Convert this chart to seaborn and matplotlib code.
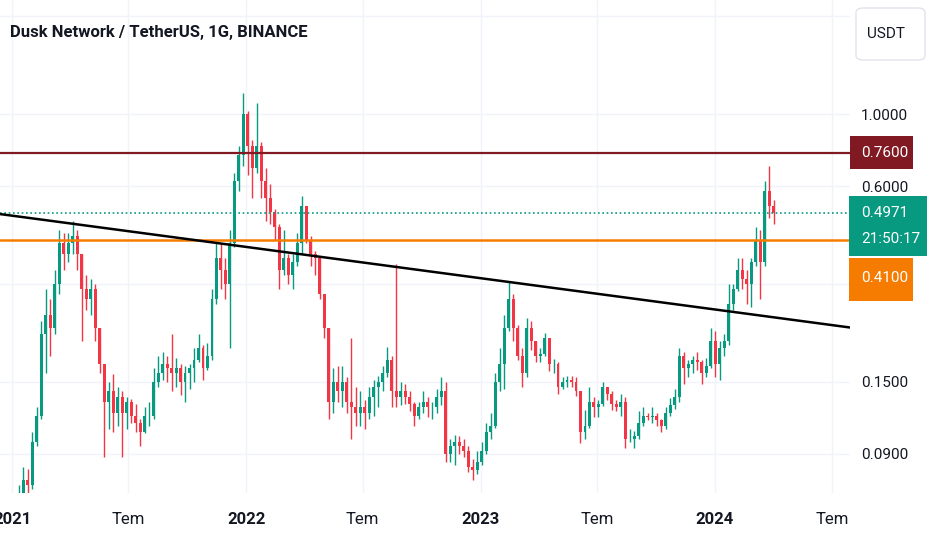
import pandas as pd
import seaborn as sns
import matplotlib.pyplot as plt
import matplotlib.dates as mdates
from matplotlib.patches import Rectangle, FancyBboxPatch
from matplotlib.ticker import FixedLocator, FixedFormatter

sns.set_theme(style="white")
plt.rcParams['font.family'] = ['Roboto', 'DejaVu Sans']

# weekly candles, first week starts 2020-12-18
first_week = "2020-12-18"
first_open = 0.042
closes = [0.045, 0.050, 0.058, 0.064, 0.075, 0.072, 0.098, 0.118, 0.21, 0.24,
          0.22, 0.30, 0.40, 0.37, 0.40, 0.42, 0.37, 0.29, 0.27, 0.29,
          0.22, 0.17, 0.13, 0.14, 0.12, 0.135, 0.12, 0.13, 0.118, 0.112,
          0.105, 0.118, 0.118, 0.15, 0.16, 0.17, 0.165, 0.16, 0.165, 0.15,
          0.16, 0.165, 0.175, 0.19, 0.165, 0.18, 0.27, 0.36, 0.33, 0.30,
          0.40, 0.62, 0.75, 1.00, 0.80, 0.68, 0.80, 0.62, 0.55, 0.50,
          0.45, 0.33, 0.36, 0.32, 0.35, 0.40, 0.52, 0.41, 0.37, 0.36,
          0.28, 0.22, 0.13, 0.15, 0.14, 0.15, 0.13, 0.125, 0.12, 0.125,
          0.12, 0.135, 0.145, 0.15, 0.16, 0.175, 0.14, 0.135, 0.14, 0.135,
          0.128, 0.118, 0.125, 0.13, 0.125, 0.125, 0.135, 0.14, 0.09, 0.095,
          0.098, 0.095, 0.092, 0.082, 0.08, 0.085, 0.092, 0.105, 0.11, 0.15,
          0.17, 0.22, 0.27, 0.22, 0.18, 0.16, 0.22, 0.20, 0.18, 0.182,
          0.205, 0.17, 0.17, 0.145, 0.15, 0.152, 0.15, 0.14, 0.105, 0.11,
          0.13, 0.125, 0.128, 0.145, 0.138, 0.128, 0.125, 0.13, 0.10, 0.10,
          0.102, 0.112, 0.118, 0.117, 0.118, 0.114, 0.11, 0.12, 0.127, 0.135,
          0.18, 0.165, 0.17, 0.175, 0.172, 0.16, 0.168, 0.20, 0.17, 0.19,
          0.20, 0.26, 0.29, 0.33, 0.31, 0.30, 0.35, 0.41, 0.35, 0.58,
          0.52, 0.4971]
highs = [0.05, 0.056, 0.066, 0.072, 0.082, 0.081, 0.105, 0.125, 0.23, 0.29,
         0.27, 0.33, 0.44, 0.43, 0.43, 0.47, 0.44, 0.37, 0.32, 0.31,
         0.30, 0.22, 0.17, 0.15, 0.158, 0.145, 0.14, 0.135, 0.133, 0.128,
         0.115, 0.125, 0.13, 0.165, 0.18, 0.185, 0.18, 0.21, 0.178, 0.17,
         0.168, 0.17, 0.19, 0.21, 0.195, 0.197, 0.29, 0.40, 0.40, 0.36,
         0.44, 0.66, 0.80, 1.16, 1.02, 0.83, 1.08, 0.82, 0.68, 0.61,
         0.51, 0.46, 0.44, 0.37, 0.37, 0.43, 0.56, 0.52, 0.42, 0.38,
         0.36, 0.28, 0.22, 0.165, 0.168, 0.168, 0.155, 0.205, 0.145, 0.14,
         0.132, 0.145, 0.152, 0.156, 0.168, 0.192, 0.18, 0.345, 0.15, 0.148,
         0.14, 0.13, 0.13, 0.14, 0.135, 0.13, 0.142, 0.155, 0.15, 0.10,
         0.103, 0.102, 0.10, 0.095, 0.087, 0.092, 0.098, 0.112, 0.12, 0.16,
         0.19, 0.24, 0.305, 0.28, 0.225, 0.19, 0.235, 0.23, 0.20, 0.19,
         0.212, 0.205, 0.176, 0.172, 0.155, 0.156, 0.156, 0.155, 0.14, 0.123,
         0.145, 0.135, 0.132, 0.15, 0.145, 0.14, 0.132, 0.138, 0.135, 0.107,
         0.106, 0.122, 0.125, 0.12, 0.125, 0.12, 0.115, 0.125, 0.134, 0.142,
         0.19, 0.185, 0.175, 0.18, 0.185, 0.175, 0.178, 0.22, 0.215, 0.20,
         0.21, 0.30, 0.30, 0.36, 0.36, 0.33, 0.36, 0.45, 0.44, 0.62,
         0.69, 0.545]
lows = [0.04, 0.043, 0.048, 0.055, 0.06, 0.066, 0.07, 0.095, 0.115, 0.16,
        0.18, 0.21, 0.28, 0.33, 0.35, 0.37, 0.33, 0.20, 0.25, 0.24,
        0.20, 0.16, 0.088, 0.107, 0.105, 0.11, 0.088, 0.107, 0.112, 0.105,
        0.095, 0.104, 0.11, 0.115, 0.145, 0.152, 0.15, 0.14, 0.145, 0.137,
        0.13, 0.143, 0.15, 0.172, 0.152, 0.163, 0.175, 0.26, 0.29, 0.27,
        0.19, 0.39, 0.58, 0.69, 0.65, 0.55, 0.66, 0.55, 0.47, 0.46,
        0.41, 0.29, 0.32, 0.30, 0.29, 0.34, 0.37, 0.40, 0.34, 0.32,
        0.27, 0.205, 0.115, 0.12, 0.13, 0.125, 0.12, 0.10, 0.11, 0.11,
        0.107, 0.115, 0.118, 0.125, 0.14, 0.155, 0.125, 0.125, 0.127, 0.128,
        0.122, 0.11, 0.115, 0.12, 0.117, 0.115, 0.12, 0.127, 0.085, 0.085,
        0.083, 0.09, 0.088, 0.079, 0.075, 0.078, 0.083, 0.09, 0.10, 0.108,
        0.14, 0.142, 0.215, 0.20, 0.175, 0.145, 0.155, 0.188, 0.172, 0.172,
        0.18, 0.162, 0.16, 0.138, 0.142, 0.145, 0.145, 0.136, 0.097, 0.10,
        0.108, 0.117, 0.117, 0.126, 0.132, 0.123, 0.122, 0.118, 0.094, 0.098,
        0.094, 0.10, 0.11, 0.114, 0.112, 0.11, 0.105, 0.107, 0.118, 0.124,
        0.13, 0.148, 0.155, 0.16, 0.163, 0.148, 0.155, 0.165, 0.155, 0.152,
        0.18, 0.195, 0.25, 0.285, 0.29, 0.26, 0.255, 0.34, 0.27, 0.34,
        0.48, 0.46]

level_red = 0.76
level_orange = 0.41
last_price = 0.4971
countdown = "21:50:17"
trend_dates = ["2021-03-29", "2023-02-15"]
trend_prices = [0.4616, 0.304]

price_ticks = [0.09, 0.15, 0.3, 0.6, 1.0, 2.0]
price_labels = ["0.0900", "0.1500", "", "0.6000", "1.0000", ""]
time_ticks = ["2021-01-01", "2021-07-01", "2022-01-01", "2022-07-01",
              "2023-01-01", "2023-07-01", "2024-01-01", "2024-07-01"]
time_labels = ["2021", "Tem", "2022", "Tem", "2023", "Tem", "2024", "Tem"]

UP = "#089981"
DOWN = "#F23645"
TXT = "#131722"
GRID = "#F0F3FA"
W, H = 932, 550
FS = 11

df = pd.DataFrame({"close": closes, "high": highs, "low": lows})
df["open"] = [first_open] + closes[:-1]
df["date"] = pd.date_range(first_week, periods=len(df), freq="7D") + pd.Timedelta(days=3.5)
df["x"] = mdates.date2num(df["date"])
df["color"] = [UP if c >= o else DOWN for o, c in zip(df["open"], df["close"])]

fig = plt.figure(figsize=(W / 100, H / 100), dpi=100)
ax = fig.add_axes([0, 1 - 493 / H, 850 / W, 493 / H])
ax.set_yscale("log")

t0 = mdates.date2num(pd.Timestamp("2021-01-01"))
ax.set_xlim(t0 - 18.7, t0 + 1305.3)
ax.set_ylim(0.0682, 2.243)

# grid
ax.xaxis.set_major_locator(FixedLocator(mdates.date2num(pd.to_datetime(time_ticks))))
ax.xaxis.set_major_formatter(FixedFormatter(time_labels))
ax.yaxis.set_major_locator(FixedLocator(price_ticks))
ax.yaxis.set_major_formatter(FixedFormatter(price_labels))
ax.yaxis.set_minor_locator(FixedLocator([]))
ax.grid(True, color=GRID, lw=1.0)
ax.set_axisbelow(True)
for s in ax.spines.values():
    s.set_visible(False)
ax.yaxis.tick_right()
ax.tick_params(axis="y", length=0, pad=8, labelsize=FS, labelcolor=TXT)
ax.tick_params(axis="x", length=0, pad=14, labelsize=12, labelcolor=TXT)
for lab in ax.get_xticklabels():
    if lab.get_text() != "Tem":
        lab.set_fontweight("bold")

# candles
ax.vlines(df["x"], df["low"], df["high"], colors=df["color"], lw=1.0, zorder=2)
body_lo = df[["open", "close"]].min(axis=1)
body_hi = df[["open", "close"]].max(axis=1)
ax.bar(df["x"], body_hi - body_lo, bottom=body_lo, width=4.6,
       color=df["color"], edgecolor="none", zorder=3)

# drawings
ax.axhline(level_red, color="#801922", lw=1.6, zorder=4)
ax.axhline(level_orange, color="#F57C00", lw=1.8, zorder=4)
ax.axhline(last_price, color=UP, lw=1.2, ls=(0, (1, 1.6)), zorder=4)
tx = mdates.date2num(pd.to_datetime(trend_dates))
ax.axline((tx[0], trend_prices[0]), (tx[1], trend_prices[1]), color="black", lw=1.8, zorder=5)

# title
fig.text(10 / W, 1 - 33 / H, "Dusk Network / TetherUS, 1G, BINANCE",
         ha="left", va="center", fontsize=12, fontweight="bold", color=TXT)


def img_y(price):
    return H - ax.transData.transform((0, price))[1]


def box(x0, y0, w, h, color):
    fig.patches.append(Rectangle((x0 / W, 1 - (y0 + h) / H), w / W, h / H,
                                 transform=fig.transFigure, fc=color, ec="none", zorder=5))


def label(x, y, s, color="white"):
    fig.text(x / W, 1 - y / H, s, ha="left", va="center", fontsize=FS, color=color, zorder=6)


y_red = img_y(level_red)
box(850, y_red - 16.5, 63, 33, "#801922")
label(861, y_red, f"{level_red:.4f}")

y_last = img_y(last_price)
box(849, y_last - 17, 78, 60, UP)
label(861, y_last, f"{last_price:.4f}")
label(861, y_last + 26, countdown)

box(849, y_last + 45, 64, 43, "#F57C00")
label(861, y_last + 45 + 20, f"{level_orange:.4f}")

# currency button
fig.patches.append(FancyBboxPatch((856 / W, 1 - 60 / H), 69 / W, 52 / H,
                                  boxstyle="round,pad=0,rounding_size=0.008",
                                  transform=fig.transFigure, fc="white", ec="#E0E3EB", lw=1.0))
fig.text(886 / W, 1 - 34 / H, "USDT", ha="center", va="center", fontsize=FS, color=TXT)

fig.savefig("out.png", dpi=100)
